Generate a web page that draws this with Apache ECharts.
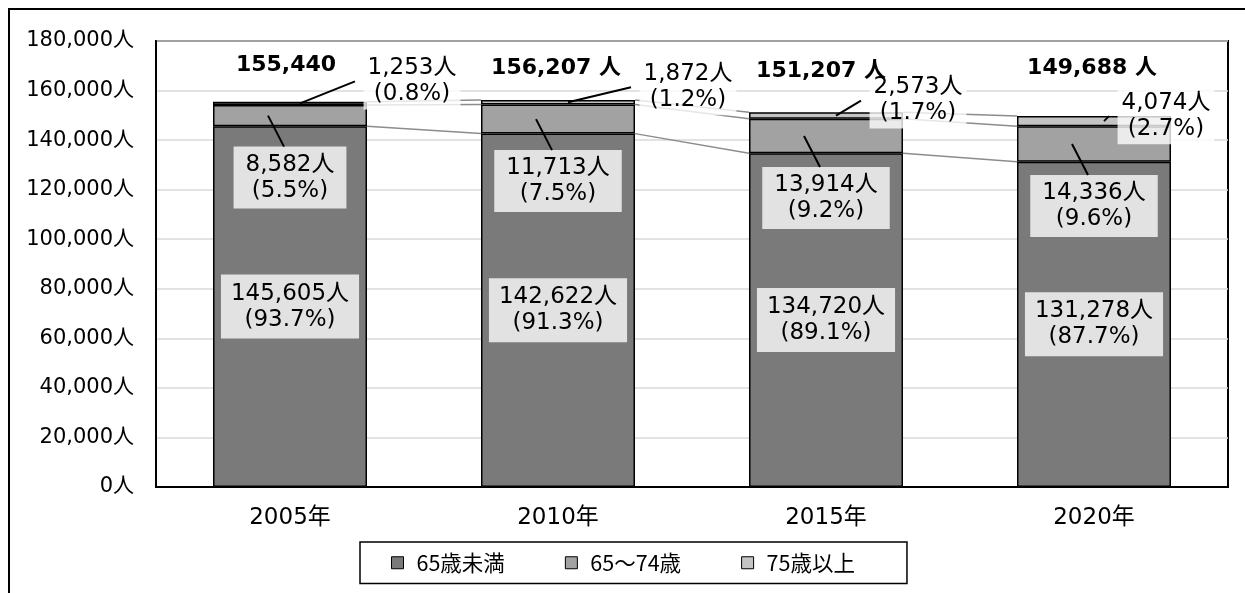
<!DOCTYPE html>
<html><head><meta charset="utf-8">
<script src="https://cdn.jsdelivr.net/npm/echarts@6/dist/echarts.min.js"></script>
<style>html,body{margin:0;padding:0;background:#fff}#c{width:1245px;height:593px}</style>
</head><body><div id="c"></div>
<script>
// ---- data ----
const categories = ['2005年', '2010年', '2015年', '2020年'];
const under65 = [145605, 142622, 134720, 131278];
const age65to74 = [8582, 11713, 13914, 14336];
const over75 = [1253, 1872, 2573, 4074];
const pctUnder65 = ['93.7', '91.3', '89.1', '87.7'];
const pct65to74 = ['5.5', '7.5', '9.2', '9.6'];
const pctOver75 = ['0.8', '1.2', '1.7', '2.7'];
const totals = [155440, 156207, 151207, 149688];
const totalLabels = ['155,440', '156,207 人', '151,207 人', '149,688 人'];
const seriesNames = ['65歳未満', '65～74歳', '75歳以上'];
const yMin = 0, yMax = 180000, yStep = 20000;

// ---- layout (pixel offsets, not data) ----
const FONT = "'DejaVu Sans', 'Noto Sans CJK JP', sans-serif";
const BAR_W = 154;
const midBoxDy = 62;
const overOffsets = [[122, -22], [130, -15], [92, -15], [72, -5]];
const totalOffsets = [[-4, -37], [-2, -32], [-5, -41], [-2, -48]];
const BOX_BG = 'rgba(255,255,255,0.78)';

const fmt = v => v.toLocaleString('en-US');

// custom series data built from arrays
const midData = categories.map((c, i) => [i, under65[i], under65[i] + age65to74[i]]);
const overData = categories.map((c, i) => [i, under65[i] + age65to74[i], totals[i]]);
const totalData = categories.map((c, i) => [i, totals[i]]);
const levels = [under65, under65.map((v, i) => v + age65to74[i]), totals];
const seriesLineData = [];
levels.forEach(lv => { for (let i = 0; i < lv.length - 1; i++) seriesLineData.push([i, lv[i], lv[i + 1]]); });

const chart = echarts.init(document.getElementById('c'));
chart.setOption({
  animation: false,
  graphic: [{ type: 'rect', silent: true, z: -10, shape: { x: 9, y: 9, width: 1400, height: 800 }, style: { fill: 'none', stroke: '#000', lineWidth: 2 } }],
  grid: { left: 156, right: 17, top: 41, bottom: 106, show: true, borderColor: '#000', borderWidth: 2, backgroundColor: 'transparent' },
  legend: {
    data: seriesNames, left: 360, top: 542, itemWidth: 12, itemHeight: 12, itemGap: 60, icon: 'rect',
    padding: [10, 52, 10, 31], borderColor: '#000', borderWidth: 1.5,
    itemStyle: { borderColor: '#000', borderWidth: 1 },
    textStyle: { fontSize: 21.5, fontFamily: "'Noto Sans CJK JP', sans-serif", color: '#000', padding: [0, 0, 0, 8] }
  },
  xAxis: {
    type: 'category', data: categories,
    axisLine: { lineStyle: { color: '#000', width: 2 } }, axisTick: { show: false },
    axisLabel: { fontSize: 23, fontFamily: FONT, color: '#000', margin: 20 }
  },
  yAxis: {
    type: 'value', min: yMin, max: yMax, interval: yStep,
    axisLine: { show: true, lineStyle: { color: '#000', width: 2 } }, axisTick: { show: false },
    splitLine: { lineStyle: { color: '#d9d9d9', width: 1.5 } },
    axisLabel: { fontSize: 21, fontFamily: FONT, color: '#000', margin: 22, formatter: v => fmt(v) + '人' }
  },
  series: [
    {
      name: seriesNames[0], type: 'bar', stack: 'a', data: under65, barWidth: BAR_W,
      itemStyle: { color: '#7a7a7a', borderColor: '#000', borderWidth: 1.5 },
      label: {
        show: true, position: 'inside', fontSize: 23, fontFamily: FONT, color: '#000', lineHeight: 26,
        backgroundColor: BOX_BG, padding: [6, 10],
        formatter: p => fmt(p.value) + '人\n(' + pctUnder65[p.dataIndex] + '%)'
      }
    },
    { name: seriesNames[1], type: 'bar', stack: 'a', data: age65to74, barWidth: BAR_W,
      itemStyle: { color: '#a2a2a2', borderColor: '#000', borderWidth: 1.5 } },
    { name: seriesNames[2], type: 'bar', stack: 'a', data: over75, barWidth: BAR_W,
      itemStyle: { color: '#c4c4c4', borderColor: '#000', borderWidth: 1.5 } },
    {
      name: 'serieslines', type: 'custom', data: seriesLineData, z: 3, silent: true,
      renderItem: (params, api) => {
        const a = api.coord([api.value(0), api.value(1)]);
        const b = api.coord([api.value(0) + 1, api.value(2)]);
        return { type: 'line', shape: { x1: a[0] + BAR_W / 2, y1: a[1], x2: b[0] - BAR_W / 2, y2: b[1] },
          style: { stroke: '#8c8c8c', lineWidth: 1.5 } };
      }
    },
    {
      name: 'midcallouts', type: 'custom', data: midData, z: 5, silent: true,
      renderItem: (params, api) => {
        const i = api.value(0);
        const p = api.coord([i, (api.value(1) + api.value(2)) / 2]);
        const cy = p[1] + midBoxDy;
        return { type: 'group', children: [
          { type: 'text', z2: 1, style: { text: fmt(age65to74[i]) + '人\n(' + pct65to74[i] + '%)', x: p[0], y: cy,
            align: 'center', verticalAlign: 'middle', font: '23px ' + FONT, fill: '#000', lineHeight: 26,
            backgroundColor: BOX_BG, padding: [5, 12] } },
          { type: 'line', z2: 2, shape: { x1: p[0] - 22, y1: p[1], x2: p[0] - 6, y2: cy - 31 }, style: { stroke: '#000', lineWidth: 2 } }
        ] };
      }
    },
    {
      name: 'overcallouts', type: 'custom', data: overData, z: 5, silent: true,
      renderItem: (params, api) => {
        const i = api.value(0);
        const p = api.coord([i, (api.value(1) + api.value(2)) / 2]);
        const lx = p[0] + overOffsets[i][0], ly = p[1] + overOffsets[i][1];
        return { type: 'group', children: [
          { type: 'text', z2: 1, style: { text: fmt(over75[i]) + '人\n(' + pctOver75[i] + '%)', x: lx, y: ly,
            align: 'center', verticalAlign: 'middle', font: '23px ' + FONT, fill: '#000', lineHeight: 26,
            backgroundColor: BOX_BG, padding: [2, 4] } },
          { type: 'line', z2: 2, shape: { x1: p[0] + 10, y1: p[1], x2: lx - 57, y2: ly }, style: { stroke: '#000', lineWidth: 2 } }
        ] };
      }
    },
    {
      name: 'totals', type: 'custom', data: totalData, z: 6, silent: true,
      renderItem: (params, api) => {
        const i = api.value(0);
        const p = api.coord([i, api.value(1)]);
        return { type: 'text', style: { text: totalLabels[i], x: p[0] + totalOffsets[i][0], y: p[1] + totalOffsets[i][1],
          align: 'center', verticalAlign: 'middle', font: 'bold 22px ' + FONT, fill: '#000' } };
      }
    }
  ]
});
</script></body></html>
